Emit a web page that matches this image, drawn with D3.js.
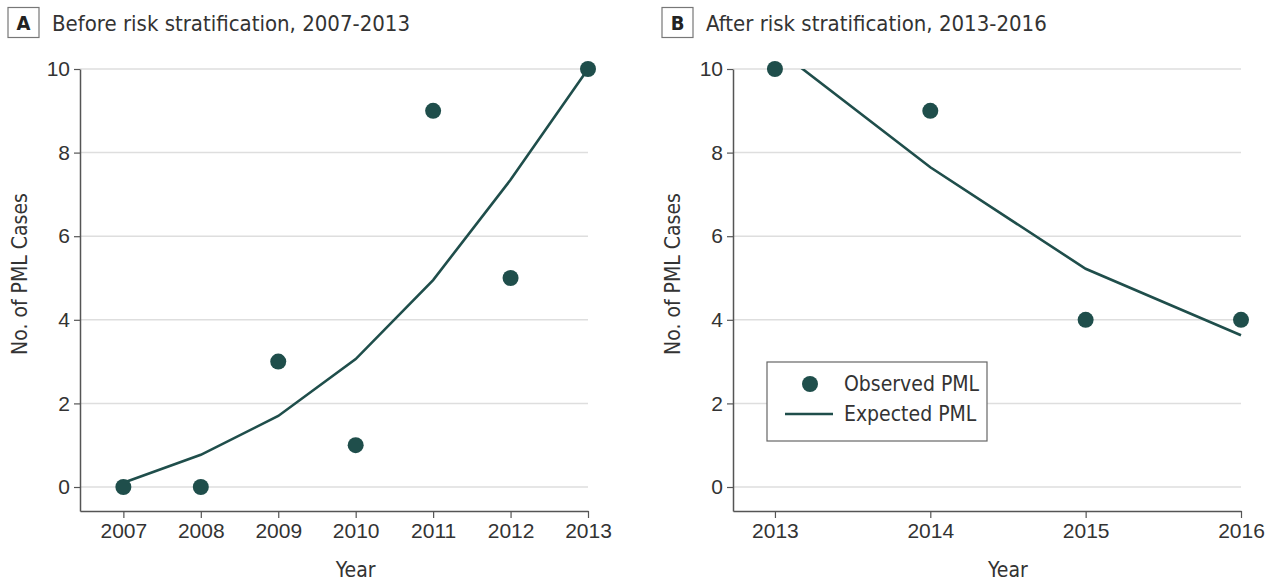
<!DOCTYPE html>
<html>
<head>
<meta charset="utf-8">
<script src="https://cdn.jsdelivr.net/npm/d3@7"></script>
<style>
	body { margin: 0; background: #fff; }
	svg { display: block; font-family: "Liberation Sans Narrow", "DejaVu Sans Condensed", "Roboto", sans-serif; }
</style>
</head>
<body>
<svg id="chart" width="1276" height="585"></svg>
<script>
// panel A: before risk stratification
const yearsA = [2007, 2008, 2009, 2010, 2011, 2012, 2013];
const observedA = [0, 0, 3, 1, 9, 5, 10];
const expectedA = [0.1, 0.77, 1.7, 3.06, 4.95, 7.35, 10];

// panel B: after risk stratification
const yearsB = [2013, 2014, 2015, 2016];
const observedB = [10, 9, 4, 4];
const expectedB = [10.51, 7.65, 5.22, 3.63];

const yTicks = [0, 2, 4, 6, 8, 10];
const legendLabels = ["Observed PML", "Expected PML"];

const color = "#1f4e4b";
const axisColor = "#555";
const textColor = "#333";

const svg = d3.select("#chart");

const panels = [
	{
		letter: "A",
		title: "Before risk stratification, 2007-2013",
		years: yearsA,
		observed: observedA,
		expected: expectedA,
		left: 80,
		right: 588,
		xMin: 2006.44,
		boxX: 8,
		legend: false
	},
	{
		letter: "B",
		title: "After risk stratification, 2013-2016",
		years: yearsB,
		observed: observedB,
		expected: expectedB,
		left: 733,
		right: 1241,
		xMin: 2012.73,
		boxX: 662,
		legend: true
	}
];

const plotTop = 69;
const plotBottom = 511;

panels.forEach((p, i) => {
	const g = svg.append("g");

	const scaleX = d3
		.scaleLinear()
		.domain([p.xMin, d3.max(p.years)])
		.range([p.left, p.right]);

	const scaleY = d3
		.scaleLinear()
		.domain([-0.574, 10])
		.range([plotBottom, plotTop]);

	// panel label box + title
	g.append("rect")
		.attr("x", p.boxX)
		.attr("y", 7.5)
		.attr("width", 31)
		.attr("height", 30)
		.style("fill", "#fff")
		.style("stroke", "#777")
		.style("stroke-width", 1.2);

	g.append("text")
		.attr("x", p.boxX + 15.5)
		.attr("y", 30)
		.attr("text-anchor", "middle")
		.style("font-weight", "bold")
		.style("font-size", "20px")
		.style("fill", "#222")
		.text(p.letter);

	g.append("text")
		.attr("x", p.boxX + 44)
		.attr("y", 31)
		.style("font-size", "22px")
		.style("fill", textColor)
		.text(p.title);

	// gridlines
	g.selectAll(".grid")
		.data(yTicks)
		.enter()
		.append("line")
		.attr("class", "grid")
		.attr("x1", p.left)
		.attr("x2", p.right)
		.attr("y1", d => scaleY(d))
		.attr("y2", d => scaleY(d))
		.style("stroke", "#dedede")
		.style("stroke-width", 1.5);

	const yAxis = d3.axisLeft(scaleY)
		.tickValues(yTicks)
		.tickSizeInner(6)
		.tickSizeOuter(0)
		.tickPadding(4);

	const yg = g.append("g")
		.attr("transform", `translate(${p.left}, 0)`)
		.call(yAxis);

	const xAxis = d3.axisBottom(scaleX)
		.tickValues(p.years)
		.tickFormat(d3.format("d"))
		.tickSizeInner(7)
		.tickSizeOuter(0)
		.tickPadding(5);

	const xg = g.append("g")
		.attr("transform", `translate(0, ${plotBottom})`)
		.call(xAxis);

	[yg, xg].forEach(ax => {
		ax.select(".domain").style("stroke", axisColor).style("stroke-width", 1.5);
		ax.selectAll(".tick line").style("stroke", axisColor).style("stroke-width", 1.2);
		ax.selectAll(".tick text")
			.style("font-family", "inherit")
			.style("font-size", "21px")
			.style("fill", textColor);
	});

	// axis titles
	g.append("text")
		.attr("transform", `translate(${p.left - 60}, 274) rotate(-90)`)
		.attr("text-anchor", "middle")
		.attr("dy", "0.35em")
		.style("font-size", "21px")
		.style("fill", textColor)
		.text("No. of PML Cases");

	g.append("text")
		.attr("x", (scaleX(p.years[0]) + scaleX(d3.max(p.years))) / 2)
		.attr("y", 577)
		.attr("text-anchor", "middle")
		.style("font-size", "21px")
		.style("fill", textColor)
		.text("Year");

	// expected line, clipped to the plot area
	const clipId = `clip-${i}`;
	g.append("clipPath")
		.attr("id", clipId)
		.append("rect")
		.attr("x", p.left)
		.attr("y", plotTop)
		.attr("width", p.right - p.left + 2)
		.attr("height", plotBottom - plotTop);

	const line = d3.line()
		.x((d, j) => scaleX(p.years[j]))
		.y(d => scaleY(d));

	g.append("path")
		.datum(p.expected)
		.attr("d", line)
		.attr("clip-path", `url(#${clipId})`)
		.style("fill", "none")
		.style("stroke", color)
		.style("stroke-width", 2.6);

	// observed dots
	g.selectAll(".obs")
		.data(p.observed)
		.enter()
		.append("circle")
		.attr("class", "obs")
		.attr("cx", (d, j) => scaleX(p.years[j]))
		.attr("cy", d => scaleY(d))
		.attr("r", 8)
		.style("fill", color);

	if (p.legend) {
		const lg = g.append("g").attr("transform", "translate(767, 362)");
		lg.append("rect")
			.attr("width", 220)
			.attr("height", 79)
			.style("fill", "#fff")
			.style("stroke", "#666")
			.style("stroke-width", 1.2);
		lg.append("circle")
			.attr("cx", 43)
			.attr("cy", 22)
			.attr("r", 8)
			.style("fill", color);
		lg.append("line")
			.attr("x1", 18)
			.attr("x2", 66)
			.attr("y1", 52)
			.attr("y2", 52)
			.style("stroke", color)
			.style("stroke-width", 2.6);
		lg.selectAll(".lab")
			.data(legendLabels)
			.enter()
			.append("text")
			.attr("class", "lab")
			.attr("x", 77)
			.attr("y", (d, j) => 22 + j * 30)
			.attr("dy", "0.35em")
			.style("font-size", "21px")
			.style("fill", textColor)
			.text(d => d);
	}
});
</script>
</body>
</html>
